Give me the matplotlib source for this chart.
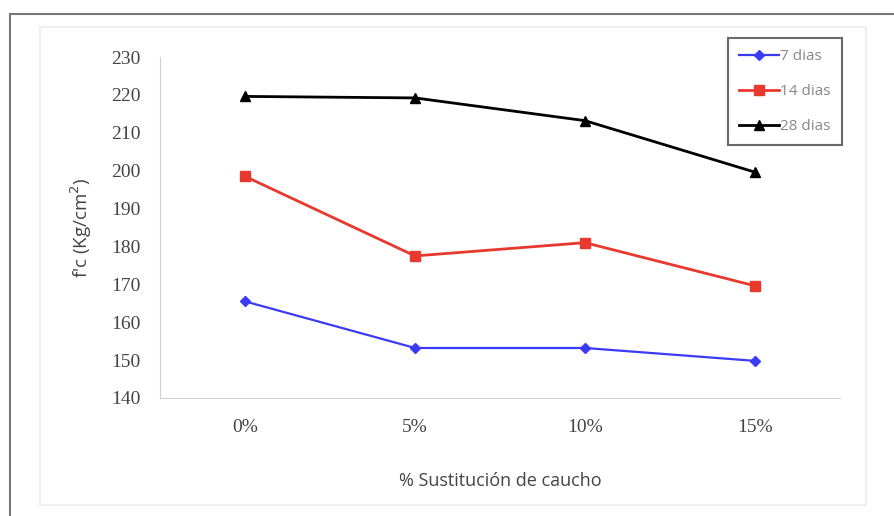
import matplotlib
matplotlib.use('Agg')
import matplotlib.pyplot as plt
from matplotlib.patches import Rectangle

categorias = ['0%', '5%', '10%', '15%']
dias_7 = [165.5, 153.2, 153.2, 149.8]
dias_14 = [198.5, 177.5, 181.0, 169.6]
dias_28 = [219.6, 219.2, 213.2, 199.6]
y_ticks = list(range(140, 231, 10))

W, H = 894, 516
fig = plt.figure(figsize=(W / 100, H / 100), dpi=100)

# marcos exteriores
fig.add_artist(Rectangle((10 / W, -0.1), 1.0, 1 - 14 / H + 0.1, transform=fig.transFigure,
                         fill=False, edgecolor='#777777', linewidth=1.5))
fig.add_artist(Rectangle((40 / W, 1 - 505 / H), 826 / W, 478 / H, transform=fig.transFigure,
                         fill=False, edgecolor='#ececec', linewidth=1.2))

ax = fig.add_axes([160 / W, 1 - 398 / H, 680 / W, 341 / H])
x = range(len(categorias))
ax.plot(x, dias_7, color='#3b3bf5', marker='D', markersize=5, linewidth=1.6, label='7 dias')
ax.plot(x, dias_14, color='#e8392f', marker='s', markersize=7, linewidth=2, label='14 dias')
ax.plot(x, dias_28, color='black', marker='^', markersize=7, linewidth=2, label='28 dias')

ax.set_xlim(-0.5, 3.5)
ax.set_ylim(140, 230)
ax.set_yticks(y_ticks)
ax.set_xticks(list(x))
ax.set_xticklabels(categorias)
for s in ['top', 'right']:
    ax.spines[s].set_visible(False)
for s in ['left', 'bottom']:
    ax.spines[s].set_color('#d0d0d0')
ax.tick_params(length=0, labelsize=14, colors='#444444')
for lab in ax.get_xticklabels() + ax.get_yticklabels():
    lab.set_family('Liberation Serif')
ax.tick_params(axis='y', pad=14)
ax.tick_params(axis='x', pad=15)

ax.set_xlabel('% Sustitución de caucho', fontsize=13, color='#444444',
              family='Open Sans', labelpad=26)
ax.set_ylabel("f'c (Kg/cm$^2$)", fontsize=13.5, color='#444444',
              family='Open Sans', labelpad=12)

leg = ax.legend(loc='upper right', bbox_to_anchor=(1.01, 1.07), fontsize=11,
                frameon=True, fancybox=False, handlelength=2.6, handletextpad=0.1,
                labelspacing=1.3, borderpad=0.75, borderaxespad=0.3)
leg.get_frame().set_edgecolor('#444444')
leg.get_frame().set_linewidth(1.5)
for t in leg.get_texts():
    t.set_color('#888888')
    t.set_family('Open Sans')

fig.savefig('out.png', dpi=100)
